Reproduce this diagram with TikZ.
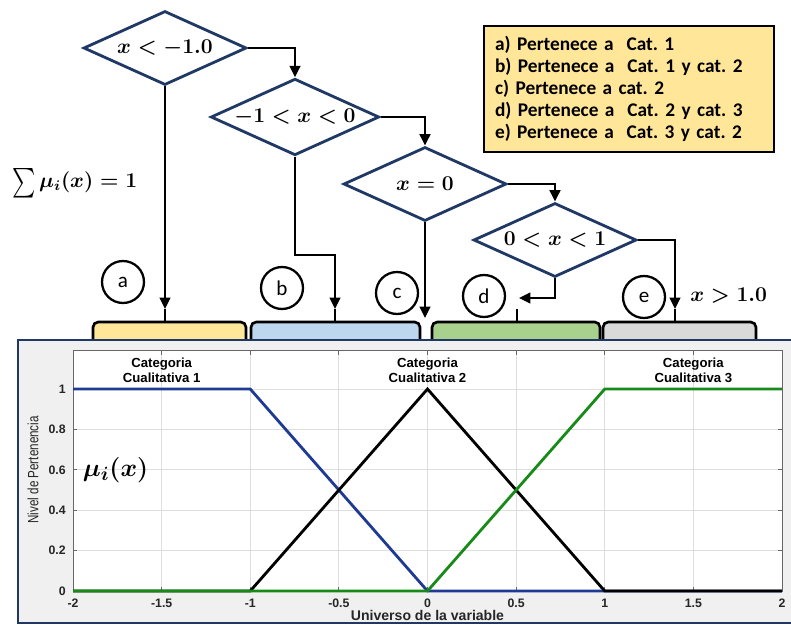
\documentclass[tikz,border=0pt]{standalone}
\usepackage{fontspec}
\usepackage{amsmath}
\usetikzlibrary{shapes.geometric,arrows.meta}
\newfontfamily\calibri{Carlito}
\newfontfamily\arial{Liberation Sans}
\definecolor{decblue}{HTML}{1F3864}
\definecolor{tabyellow}{HTML}{FFE699}
\definecolor{tabblue}{HTML}{BDD7EE}
\definecolor{tabgreen}{HTML}{A9D18E}
\definecolor{tabgray}{HTML}{D9D9D9}
\definecolor{figbg}{HTML}{F0F0F0}
\definecolor{gridgray}{HTML}{DEDEDE}
\definecolor{tickgray}{HTML}{262626}
\definecolor{mfblue}{HTML}{1F3A93}
\definecolor{mfgreen}{HTML}{178A17}
\frenchspacing
\begin{document}
\begin{tikzpicture}[x=0.02cm, y=-0.02cm,
	decision/.style={draw=decblue, line width=1.6pt, shape=diamond, aspect=2.2, inner sep=1pt,
		minimum width=3.26cm, minimum height=1.48cm, font=\fontsize{12}{14}\selectfont\boldmath},
	flow/.style={line width=1.5pt, -{Triangle[length=6.5pt,width=6pt]}},
	letter/.style={draw, circle, line width=1.3pt, minimum size=0.84cm, inner sep=0pt,
		font=\calibri\fontsize{12}{14}\selectfont},
	tab/.style={line width=1.5pt, rounded corners=3pt},
	legendbox/.style={draw, line width=0.9pt, fill=tabyellow, inner xsep=0.22cm, inner ysep=0.2cm,
		text width=5.36cm, align=left, font=\calibri\bfseries\fontsize{11}{12.6}\selectfont},
	mathlabel/.style={anchor=west, inner sep=0pt, font=\fontsize{11.8}{14}\selectfont\boldmath},
	gridline/.style={gridgray, line width=0.5pt},
	axisline/.style={tickgray!70, line width=0.5pt},
	ticklabel/.style={tickgray, inner sep=0pt, font=\arial\bfseries\fontsize{7}{8}\selectfont},
	catlabel/.style={align=center, inner sep=0pt, font=\arial\bfseries\fontsize{7.5}{8.8}\selectfont},
	curve/.style={line width=1.6pt}]
	
	\useasboundingbox (0,0) rectangle (791,625);
	
	% decisiones
	\node[decision] (d1) at (165,48) {$x<-\mathbf{1.0}$};
	\node[decision] (d2) at (295,117) {$-\mathbf{1}<x<\mathbf{0}$};
	\node[decision] (d3) at (425,184) {$x=\mathbf{0}$};
	\node[decision] (d4) at (555,240) {$\mathbf{0}<x<\mathbf{1}$};
	
	% leyenda
	\node[legendbox] (leyenda) at (629,89) {a) Pertenece a\ \ Cat. 1\\
		b) Pertenece a\ \ Cat. 1 y cat. 2\\
		c) Pertenece a cat. 2\\
		d) Pertenece a\ \ Cat. 2 y cat. 3\\
		e) Pertenece a\ \ Cat. 3 y cat. 2};
	
	\node[mathlabel] (suma) at (12,183) {\raisebox{-0.3ex}{\scalebox{1.05}[1.4]{$\sum$}}\,$\mu_i(x)=\mathbf{1}$};
	\node[mathlabel] (mayor) at (690,296) {$x>\mathbf{1.0}$};
	
	% casos
	\node[letter] (a) at (123,282) {a};
	\node[letter] (b) at (282,288) {b};
	\node[letter] (c) at (397,293) {c};
	\node[letter] (d) at (484,296) {d};
	\node[letter] (e) at (644,297) {e};
	
	% pestanas
	\foreach \n/\xa/\xb/\xt/\col in {ta/93/246/165/tabyellow, tb/251/420/335/tabblue,
		td/432/600/517/tabgreen, te/603/756/675/tabgray}
	{
		\filldraw[tab, fill=\col] (\xa,341) -- (\xa,322) -- (\xb,322) -- (\xb,341);
		\draw[line width=1.5pt] (\xt,323) -- (\xt,309) coordinate (\n);
	}
	
	\coordinate (bk) at (335,255);
	\coordinate (cend) at (425,318);
	\coordinate (dend) at (519,298);
	
	% flechas
	\draw[flow] (d1.east) -| (d2.north);
	\draw[flow] (d2.east) -| (d3.north);
	\draw[flow] (d3.east) -| (d4.north);
	\draw[flow] (d1.south) -- (ta);
	\draw[flow] (d2.south) |- (bk) -- (tb);
	\draw[flow] (d3.south) -- (cend);
	\draw[flow] (d4.south) |- (dend);
	\draw[flow] (d4.east) -| (te);
	
	% grafica
	\filldraw[fill=figbg, draw=decblue, line width=1.2pt] (18,340) rectangle (800,623);
	\begin{scope}[shift={(427.5,591)}, x=3.545cm, y=4.04cm]
		\fill[white] (-2,0) rectangle (2,1.19);
		\foreach \u in {-1.5,-1,-0.5,0,0.5,1,1.5}
		\draw[gridline] (\u,0) -- (\u,1.19);
		\foreach \v in {0.2,0.4,0.6,0.8,1}
		\draw[gridline] (-2,\v) -- (2,\v);
		\draw[axisline] (-2,0) rectangle (2,1.19);
		\foreach \u in {-2,-1.5,-1,-0.5,0,0.5,1,1.5,2}
		{
			\draw[axisline] (\u,0) -- (\u,0.02);
			\draw[axisline] (\u,1.19) -- (\u,1.17);
		}
		\foreach \v in {0,0.2,0.4,0.6,0.8,1}
		{
			\draw[axisline] (-2,\v) -- (-1.98,\v);
			\draw[axisline] (2,\v) -- (1.98,\v);
		}
		\foreach \t [count=\i] in {-2,-1.5,-1,-0.5,0,0.5,1,1.5,2}
		\node[ticklabel] (xl\i) at (\t,-0.06) {\t};
		\foreach \t [count=\i] in {0,0.2,0.4,0.6,0.8,1}
		\node[ticklabel, anchor=east] (yl\i) at (-2.04,\t) {\t};
		\node[ticklabel, font=\arial\bfseries\fontsize{8}{9}\selectfont] (xlabel) at (0,-0.119) {Universo de la variable};
		\node[ticklabel, rotate=90, font=\arial\fontsize{8.5}{9}\selectfont] (ylabel) at (-2.226,0.6) {\scalebox{0.78}[1]{Nivel de Pertenencia}};
		
		\draw[curve, mfblue] (-2,1) -- (-1,1) -- (0,0) -- (2,0);
		\draw[curve, black] (-2,0) -- (-1,0) -- (0,1) -- (1,0) -- (2,0);
		\draw[curve, mfgreen] (-2,0) -- (0,0) -- (1,1) -- (2,1);
		
		\node[catlabel] (cat1) at (-1.5,1.094) {Categoria\\Cualitativa 1};
		\node[catlabel] (cat2) at (0,1.094) {Categoria\\Cualitativa 2};
		\node[catlabel] (cat3) at (1.5,1.094) {Categoria\\Cualitativa 3};
		\node[font=\fontsize{15}{18}\selectfont\boldmath] (mu) at (-1.76,0.6) {$\mu_i(x)$};
	\end{scope}
	
\end{tikzpicture}
\end{document}
